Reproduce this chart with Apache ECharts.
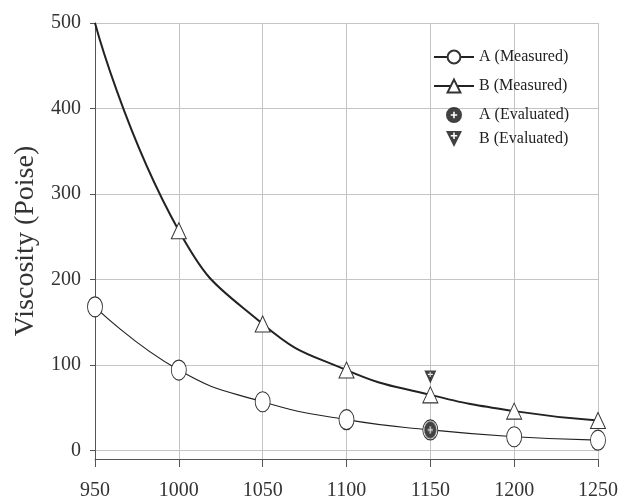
<!DOCTYPE html>
<html>
<head>
<meta charset="utf-8">
<script src="https://cdn.jsdelivr.net/npm/echarts@6/dist/echarts.min.js"></script>
<style>
  html, body { margin: 0; padding: 0; background: #fff; }
  #chart { width: 628px; height: 503px; }
</style>
</head>
<body>
<div id="chart"></div>
<script>
// temperatures on x, viscosity on y
var temps = [950, 1000, 1050, 1100, 1150, 1200, 1250];
var aMeasured = [168, 94, 57, 36, 24, 16, 12];
var bMeasured = [500, 257, 148, 94, 65, 46, 35];
var evalTemp = 1150;
var aEvaluated = [24];
var bEvaluated = [86];
var yTicks = [0, 100, 200, 300, 400, 500];

var serif = "'Liberation Serif', 'Times New Roman', serif";
var ink = "#222";

// circle / inverted triangle with a white plus cut out
var plusHole = "M9 6 L9 9 L6 9 L6 11 L9 11 L9 14 L11 14 L11 11 L14 11 L14 9 L11 9 L11 6 Z";
var dotPlus = "path://M10 0 A10 10 0 1 1 10 20 A10 10 0 1 1 10 0 Z " + plusHole;
var triPlus = "path://M0 0 L20 0 L10 20 Z M9 2 L9 5 L6 5 L6 7 L9 7 L9 10 L11 10 L11 7 L14 7 L14 5 L11 5 L11 2 Z";

function pairs(xs, ys) {
  return xs.map(function (x, i) { return [x, ys[i]]; });
}

var bData = pairs(temps, bMeasured);
// first B point only anchors the curve, no marker drawn there
bData[0] = { value: bData[0], symbol: "none" };

var chart = echarts.init(document.getElementById("chart"));

function legendItem(name, left, top, solid) {
  var lg = {
    data: [name],
    left: left,
    top: top,
    orient: "vertical",
    itemWidth: 40,
    itemHeight: 16,
    padding: 0,
    selectedMode: false,
    textStyle: { fontFamily: serif, fontSize: 16, color: ink }
  };
  if (solid) lg.itemStyle = { borderWidth: 0 };
  return lg;
}

chart.setOption({
  animation: false,
  backgroundColor: "#fff",
  grid: { left: 95, right: 30, top: 23, bottom: 44 },
  legend: [
    legendItem("A (Measured)", 433, 49),
    legendItem("B (Measured)", 433, 78),
    legendItem("A (Evaluated)", 446, 107, true),
    legendItem("B (Evaluated)", 446, 131, true)
  ],
  xAxis: {
    type: "value",
    min: 950,
    max: 1250,
    interval: 50,
    axisLine: { show: true, onZero: false, lineStyle: { color: "#555", width: 1 } },
    axisTick: { show: true, inside: false, length: 8, lineStyle: { color: "#555" } },
    axisLabel: {
      fontFamily: serif, fontSize: 20, color: "#333", margin: 22,
      formatter: function (v) { return String(v); }
    },
    splitLine: { show: true, lineStyle: { color: "#c4c4c4", width: 1 } }
  },
  yAxis: {
    type: "value",
    min: -10,
    max: 500,
    name: "Viscosity (Poise)",
    nameLocation: "middle",
    nameRotate: 90,
    nameGap: 51,
    nameTextStyle: { fontFamily: serif, fontSize: 28, color: "#333" },
    axisLine: { show: true, lineStyle: { color: "#555", width: 1 } },
    axisTick: { show: true, length: 5, customValues: yTicks, lineStyle: { color: "#555" } },
    axisLabel: { customValues: yTicks, fontFamily: serif, fontSize: 20, color: "#333", margin: 14 },
    splitLine: { show: true, lineStyle: { color: "#c4c4c4", width: 1 } }
  },
  series: [
    {
      name: "A (Measured)",
      type: "line",
      data: pairs(temps, aMeasured),
      smooth: 0.5,
      symbol: "circle",
      symbolSize: [15, 20],
      showAllSymbol: true,
      lineStyle: { color: ink, width: 1.2 },
      itemStyle: { color: "#fff", borderColor: "#333", borderWidth: 1 },
      z: 3
    },
    {
      name: "B (Measured)",
      type: "line",
      data: bData,
      smooth: 0.5,
      symbol: "triangle",
      symbolSize: [15, 16],
      showAllSymbol: true,
      lineStyle: { color: ink, width: 2 },
      itemStyle: { color: "#fff", borderColor: "#333", borderWidth: 1 },
      z: 3
    },
    {
      name: "A (Evaluated)",
      type: "scatter",
      data: pairs([evalTemp], aEvaluated),
      symbol: dotPlus,
      symbolSize: [12, 17],
      itemStyle: { color: "#111", borderColor: "#888", borderWidth: 1 },
      z: 4
    },
    {
      name: "B (Evaluated)",
      type: "scatter",
      data: pairs([evalTemp], bEvaluated),
      symbol: triPlus,
      symbolSize: [12, 13],
      itemStyle: { color: "#111" },
      z: 4
    }
  ]
});
</script>
</body>
</html>
